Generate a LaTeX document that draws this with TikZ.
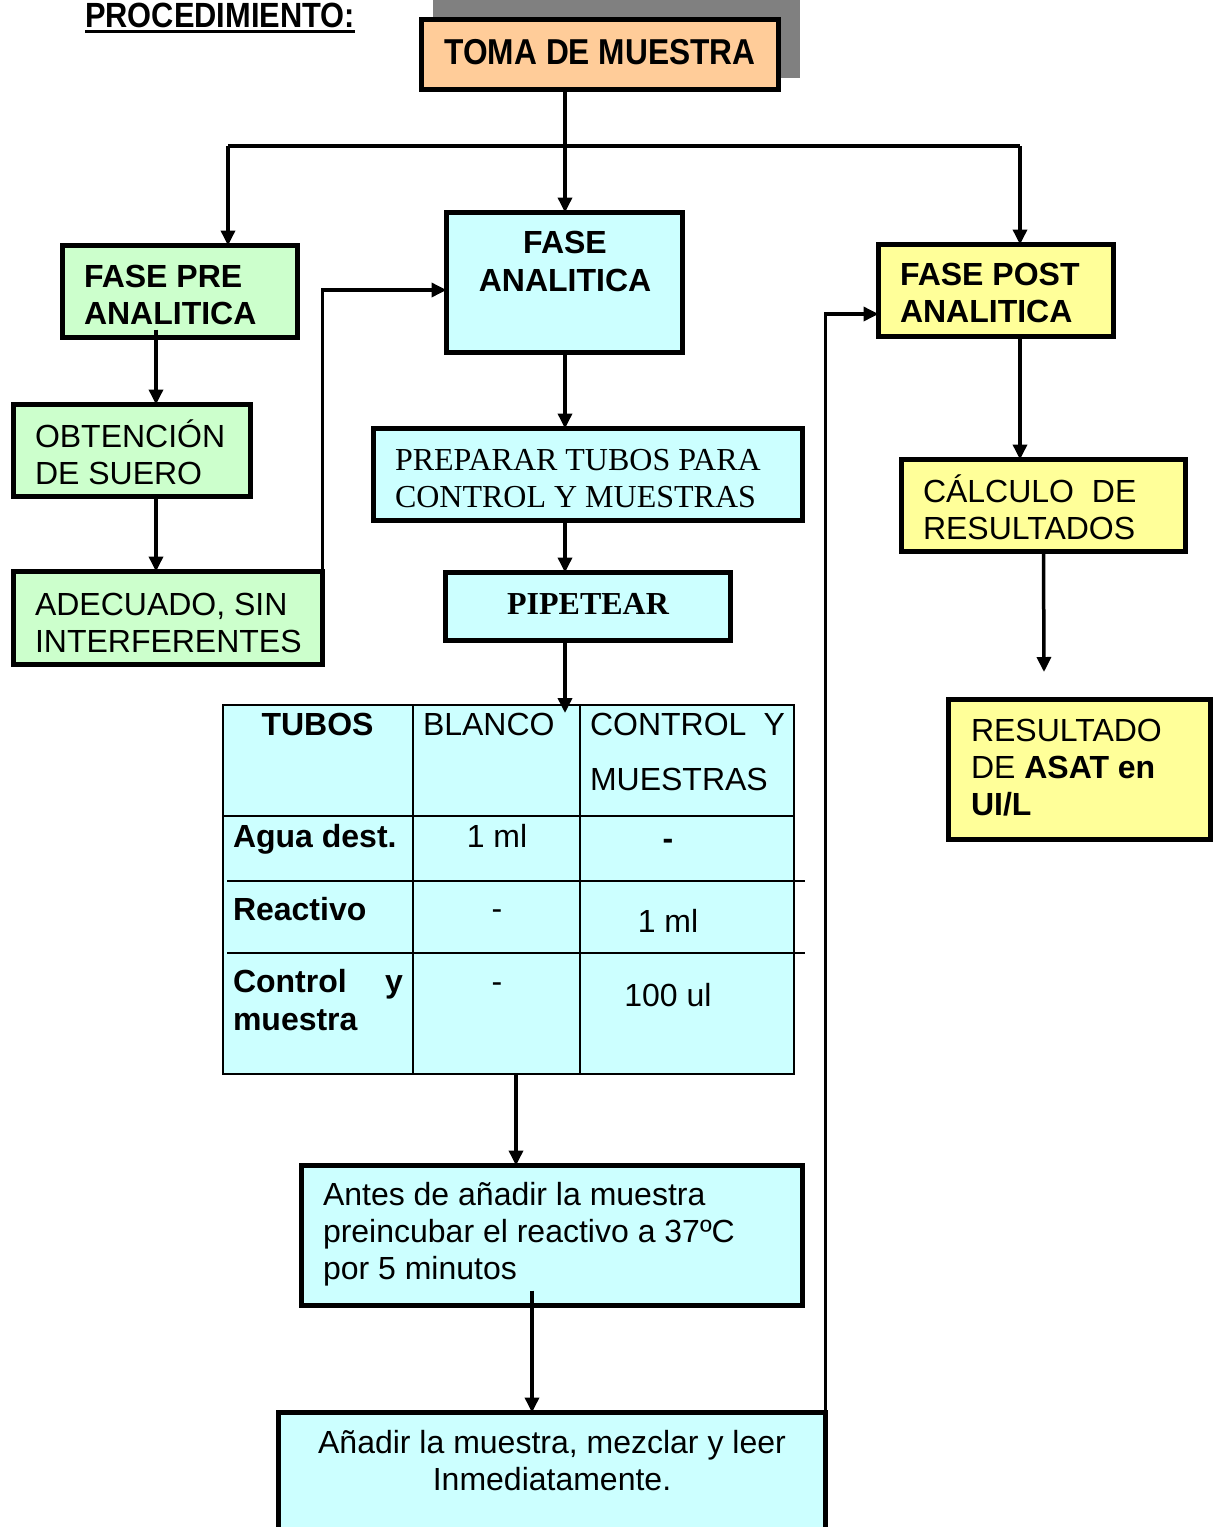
\documentclass[tikz,border=0pt]{standalone}
\usepackage{fontspec}
\setmainfont{Liberation Sans}
\newfontfamily\serifx{Liberation Serif}
\newfontfamily\narrowf{Liberation Sans}[FakeStretch=0.88]
\usetikzlibrary{arrows.meta,calc}
\definecolor{peach}{HTML}{FFCC99}
\definecolor{mint}{HTML}{CCFFCC}
\definecolor{pcyan}{HTML}{CCFFFF}
\definecolor{pyellow}{HTML}{FFFF99}
\definecolor{shadowgray}{HTML}{808080}
\newcommand\Lft[1]{\vtop{\halign{##\hfil\cr#1\crcr}}}
\newcommand\Ctr[1]{\vtop{\halign{\hfil##\hfil\cr#1\crcr}}}
\tikzset{
  box/.style={draw, line width=5pt, rectangle, inner sep=0pt, outer sep=0pt},
  conn/.style={line width=3.5pt},
  arr/.style={conn, -{Triangle[length=15pt,width=14pt]}},
  tx/.style={inner sep=0pt, outer sep=0pt, font=\fontsize{32}{37}\selectfont},
  txw/.style={tx, anchor=base west},
  txc/.style={tx, anchor=base},
  cell/.style={line width=2pt},
}
\begin{document}
\begin{tikzpicture}[x=1pt,y=-1pt]
\useasboundingbox (0,0) rectangle (1215,1527);
\clip (0,0) rectangle (1215,1527);
\fill[white] (0,0) rectangle (1215,1527);

% helper coordinates
\coordinate (c156) at (156,0);
\coordinate (c516) at (516,0);
\coordinate (c532) at (532,0);
\coordinate (c565) at (565,0);
\coordinate (y290) at (0,290);
\coordinate (y314) at (0,314);
\coordinate (bl) at (228,146);
\coordinate (br) at (1020,146);
\coordinate (freeend) at (1044,672);

% title
\node[anchor=base west, inner sep=0pt, font=\narrowf\bfseries\fontsize{35}{40}\selectfont] (ttitle) at (85,27) {PROCEDIMIENTO:};
\draw[line width=3pt] ([yshift=-4pt]ttitle.base west) -- ([yshift=-4pt]ttitle.base east);

% shadow + toma
\fill[shadowgray] (433,-5) rectangle (800,78);
\node[box, fill=peach, minimum width=357pt, minimum height=70pt] (toma) at (600,54.5) {};
\node[anchor=base, inner sep=0pt, font=\narrowf\bfseries\fontsize{36}{40}\selectfont] (ttoma) at (600,64) {TOMA DE MUESTRA};

% boxes
\node[box, fill=mint, minimum width=235pt, minimum height=92pt] (pre) at (180,291.5) {};
\node[box, fill=mint, minimum width=237pt, minimum height=92pt] (obt) at (132,450.5) {};
\node[box, fill=mint, minimum width=309pt, minimum height=93pt] (adec) at (168,618) {};
\node[box, fill=pcyan, minimum width=236pt, minimum height=140pt] (anal) at (564.5,282.5) {};
\node[box, fill=pcyan, minimum width=429pt, minimum height=92pt] (prep) at (588,474.5) {};
\node[box, fill=pcyan, minimum width=285pt, minimum height=68pt] (pip) at (588,606.5) {};
\node[draw, line width=2pt, fill=pcyan, inner sep=0pt, outer sep=0pt, minimum width=571pt, minimum height=369pt] (table) at (508.5,889.5) {};
\node[box, fill=pcyan, minimum width=501pt, minimum height=140pt] (antes) at (552,1235.5) {};
\node[box, fill=pcyan, minimum width=547pt, minimum height=147.5pt] (anadir) at (552,1486.25) {};
\node[box, fill=pyellow, minimum width=235pt, minimum height=92pt] (post) at (996,290.5) {};
\node[box, fill=pyellow, minimum width=284pt, minimum height=92pt] (calc) at (1043.5,505.5) {};
\node[box, fill=pyellow, minimum width=262pt, minimum height=140pt] (res) at (1079.5,769.5) {};

% table inner lines
\draw[cell] (413,704) -- (413,1075);
\draw[cell] (580,704) -- (580,1075);
\draw[cell] (222,816) -- (795,816);
\draw[cell] (227,881) -- (805,881);
\draw[cell] (227,953) -- (805,953);

% texts
\node[txw, font=\bfseries\fontsize{32}{37}\selectfont] (tpre) at (84,287) {\Lft{FASE PRE\cr ANALITICA}};
\node[txw] (tobt) at (35,447) {\Lft{OBTENCIÓN\cr DE SUERO}};
\node[txw] (tadec) at (35,615) {\Lft{ADECUADO, SIN\cr INTERFERENTES}};
\node[txc, font=\bfseries\fontsize{32}{38}\selectfont] (tanal) at (565,253) {\Ctr{FASE\cr ANALITICA}};
\node[txw, font=\serifx\fontsize{32}{37}\selectfont] (tprep) at (395,470) {\Lft{PREPARAR TUBOS PARA\cr CONTROL Y MUESTRAS}};
\node[txc, font=\serifx\bfseries\fontsize{32}{37}\selectfont] (tpip) at (588,614) {PIPETEAR};
\node[txw, font=\bfseries\fontsize{32}{37}\selectfont] (tpost) at (900,285) {\Lft{FASE POST\cr ANALITICA}};
\node[txw] (tcalc) at (923,502) {\Lft{CÁLCULO\ \ DE\cr RESULTADOS}};
\node[txw] (tres) at (971,741) {\Lft{RESULTADO\cr DE \textbf{ASAT en}\cr \textbf{UI/L}}};
\node[txw] (tantes) at (323,1205) {\Lft{Antes de añadir la muestra\cr preincubar el reactivo a 37ºC\cr por 5 minutos}};
\node[txc] (tanadir) at (552,1453) {\Ctr{Añadir la muestra, mezclar y leer\cr Inmediatamente.}};

% table texts
\node[txc, font=\bfseries\fontsize{32}{37}\selectfont] (ttubos) at (317.5,735) {TUBOS};
\node[txw] (tblanco) at (423,735) {BLANCO};
\node[txw] (tcy) at (590,735) {\hbox to 195pt{CONTROL\hfil Y}};
\node[txw] (tmues) at (590,790) {MUESTRAS};
\node[txw, font=\bfseries\fontsize{32}{37}\selectfont] (tagua) at (233,847) {Agua dest.};
\node[txc] (t1ml) at (497,847) {1 ml};
\node[txc, font=\bfseries\fontsize{32}{37}\selectfont] (tdash1) at (668,849) {-};
\node[txw, font=\bfseries\fontsize{32}{37}\selectfont] (treac) at (233,920) {Reactivo};
\node[txc] (tdash2) at (497,919) {-};
\node[txc] (t1mlb) at (668,932) {1 ml};
\node[txw, font=\bfseries\fontsize{32}{38}\selectfont] (tcm) at (233,992) {\Lft{\hbox to 170pt{Control\hfil y}\cr muestra}};
\node[txc] (tdash3) at (497,992) {-};
\node[txc] (t100) at (668,1006) {100 ul};

% connectors
\draw[conn] (toma.south -| c565) -- (bl -| c565);
\draw[conn] (bl) -- (br);
\draw[arr] (bl -| c565) -- (anal.north -| c565);
\draw[arr] (bl) -- (bl |- pre.north);
\draw[arr] (br) -- (br |- post.north);
\draw[arr] ([yshift=8pt]pre.south -| c156) -- (obt.north -| c156);
\draw[arr] (obt.south -| c156) -- (adec.north -| c156);
\draw[arr] (adec.north east) |- (anal.west |- y290);
\draw[arr] (anal.south -| c565) -- (prep.north -| c565);
\draw[arr] (prep.south -| c565) -- (pip.north -| c565);
\draw[arr, shorten >=-8pt] (pip.south -| c565) -- (table.north -| c565);
\draw[arr] (table.south -| c516) -- (antes.north -| c516);
\draw[arr] ([yshift=15pt]antes.south -| c532) -- (anadir.north -| c532);
\draw[arr] (anadir.north east) |- (post.west |- y314);
\draw[arr] (post.south -| br) -- (calc.north -| br);
\draw[arr] (calc.south) -- (freeend);
\end{tikzpicture}
\end{document}
